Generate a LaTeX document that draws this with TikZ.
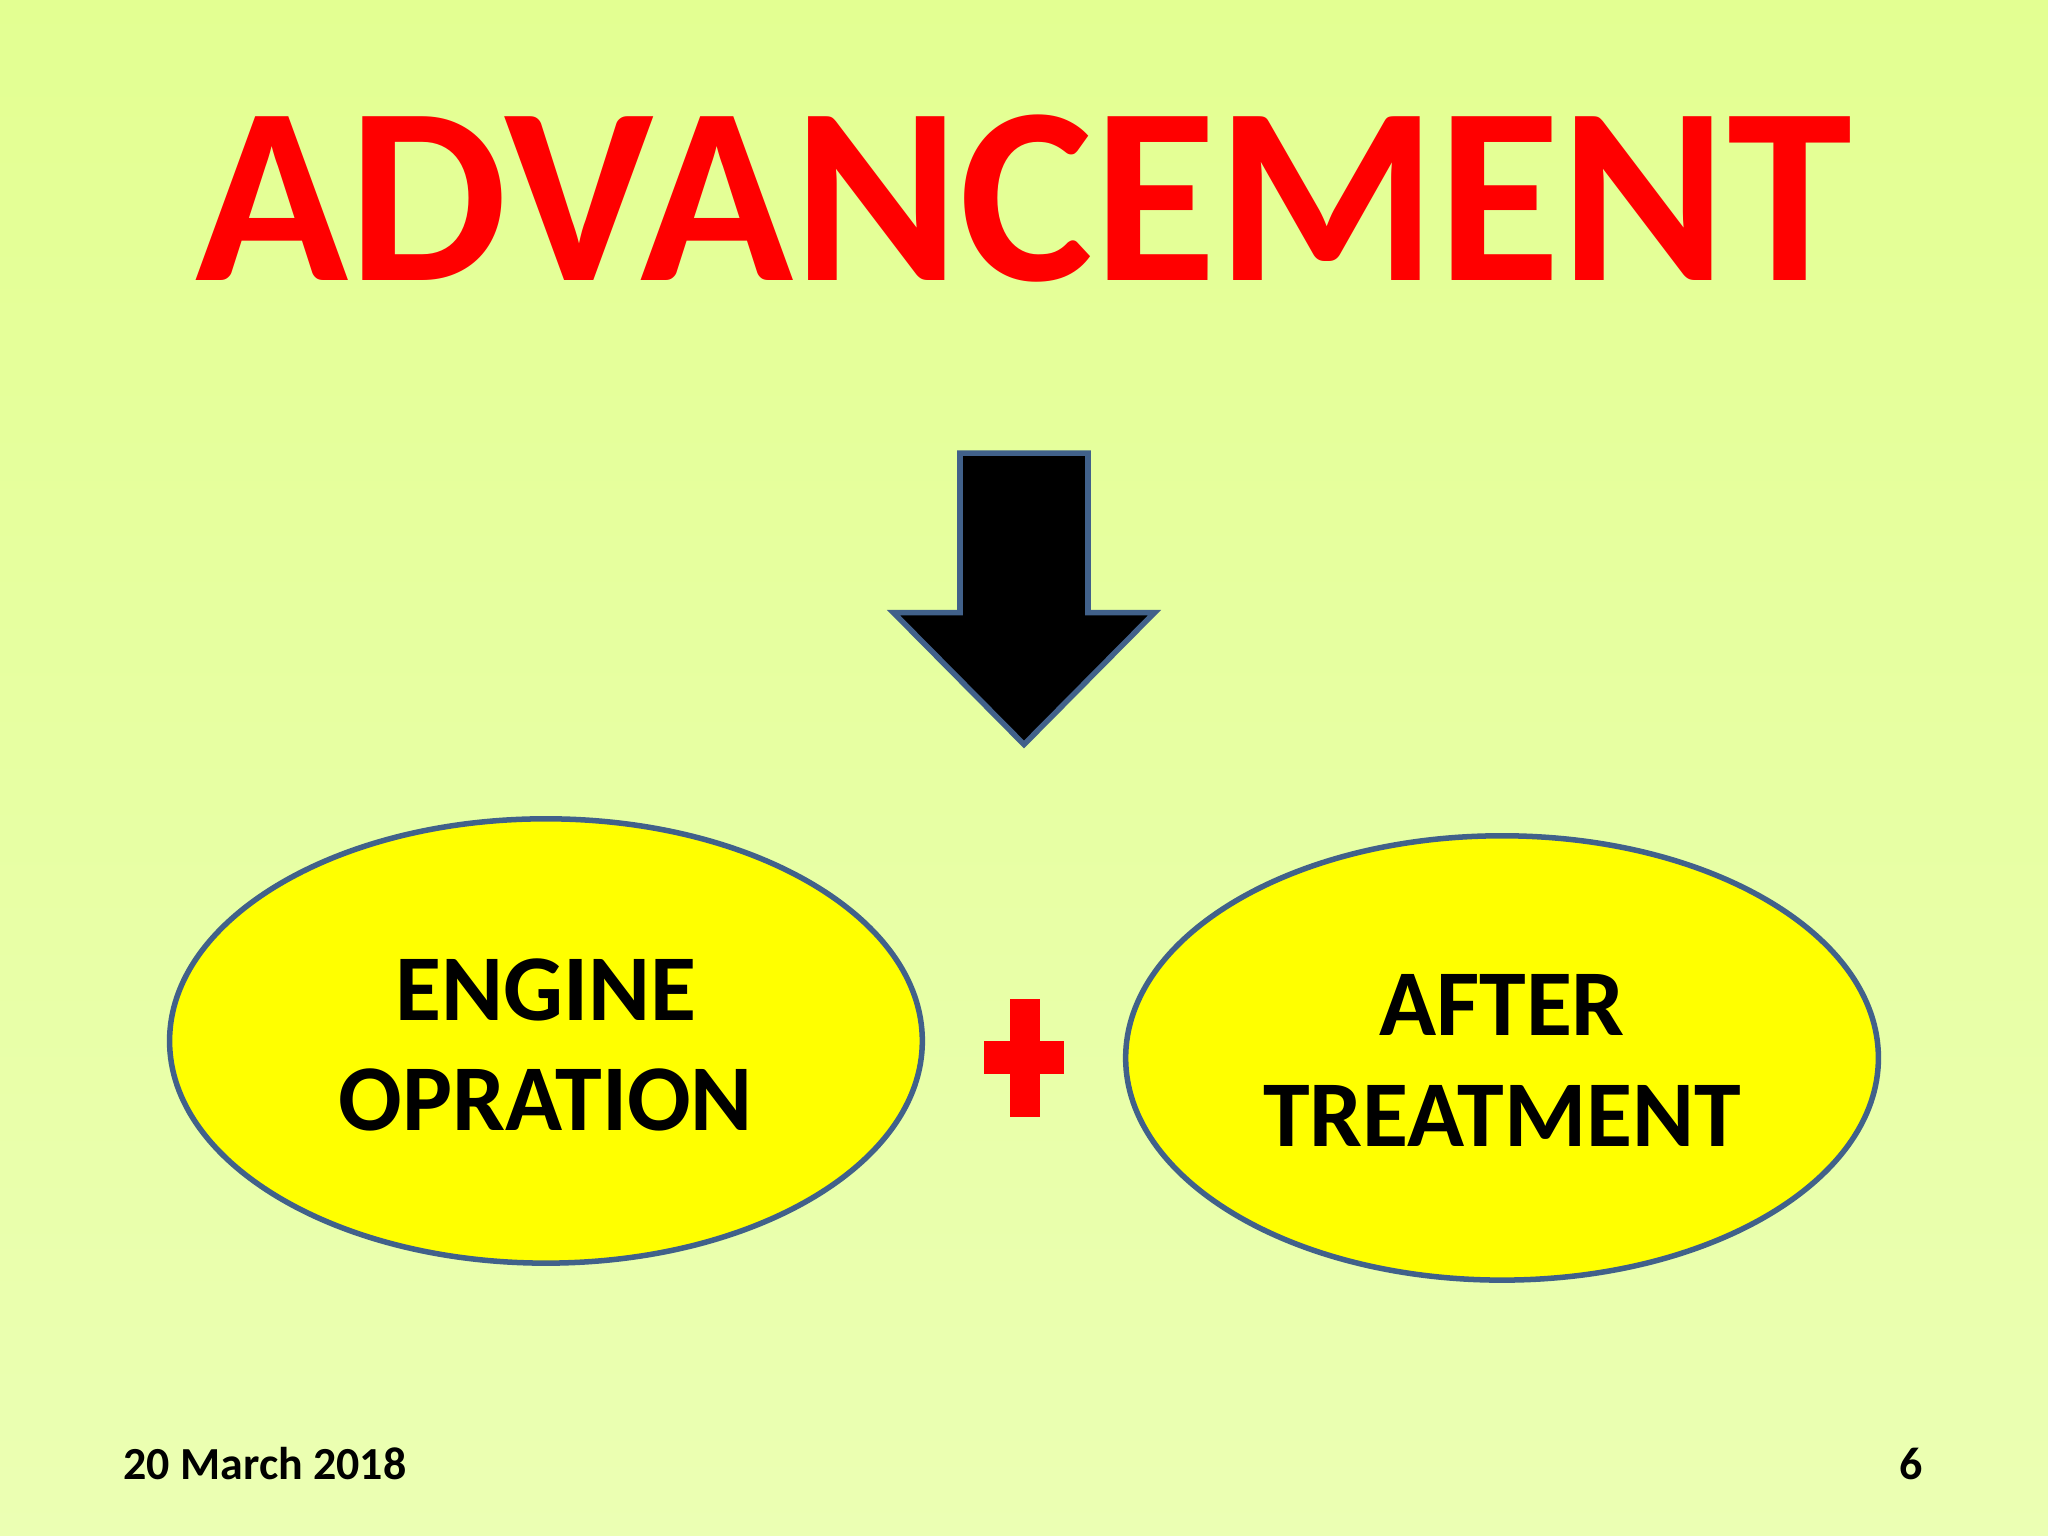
\documentclass[tikz,border=0pt]{standalone}
\usepackage{fontspec}
\setmainfont{Carlito}
\definecolor{bgtop}{HTML}{E3FF92}
\definecolor{bgbot}{HTML}{EBFFB3}
\definecolor{edge}{HTML}{41618A}
\definecolor{tred}{HTML}{FF0000}
\definecolor{ovfill}{HTML}{FFFF00}
\tikzset{
  oval/.style={draw=edge,line width=1.2pt,fill=ovfill},
  ovtext/.style={align=center,font=\bfseries\fontsize{20.5}{24}\selectfont},
}
\begin{document}
\begin{tikzpicture}[x=0.01cm,y=-0.01cm]
\shade[top color=bgtop,bottom color=bgbot] (0,0) rectangle (1568,1176);
\useasboundingbox (0,0) rectangle (1568,1176);
\node[anchor=base,text=tred,font=\bfseries\fontsize{55}{60}\selectfont,inner sep=0] (title) at (784,215) {ADVANCEMENT};
\draw[edge,line width=1.2pt,fill=black,line join=miter] (735,347) -- (833,347) -- (833,469) -- (884,469) -- (784,570) -- (684,469) -- (735,469) -- cycle;
\draw[oval] (418,797) ellipse[x radius=288cm/100, y radius=170cm/100];
\draw[oval] (1150,810) ellipse[x radius=288cm/100, y radius=170cm/100];
\node[ovtext] (eng) at (418,800) {ENGINE\\OPRATION};
\node[ovtext] (aft) at (1150,812) {AFTER\\TREATMENT};
\fill[tred] (773,765) rectangle (796,855);
\fill[tred] (753,797) rectangle (815,822);
\node[anchor=base west,font=\bfseries\fontsize{10}{12}\selectfont,inner sep=0] (date) at (94,1133) {20 March 2018};
\node[anchor=base east,font=\bfseries\fontsize{10}{12}\selectfont,inner sep=0] (pg) at (1473,1133) {6};
\end{tikzpicture}
\end{document}
